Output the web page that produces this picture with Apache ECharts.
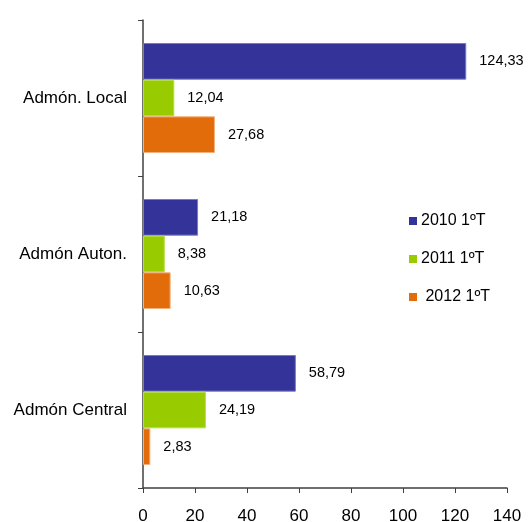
<!DOCTYPE html>
<html>
<head>
<meta charset="utf-8">
<script src="https://cdn.jsdelivr.net/npm/echarts@6/dist/echarts.min.js"></script>
<style>
html,body{margin:0;padding:0;background:#fff;}
#chart{width:529px;height:522px;}
</style>
</head>
<body>
<div id="chart"></div>
<script>
var categories = ['Admón. Local', 'Admón Auton.', 'Admón Central'];
var seriesNames = ['2010 1ºT', '2011 1ºT', ' 2012 1ºT'];
var values2010 = [124.33, 21.18, 58.79];
var values2011 = [12.04, 8.38, 24.19];
var values2012 = [27.68, 10.63, 2.83];
var xTicks = [0, 20, 40, 60, 80, 100, 120, 140];

var colors = ['#333399', '#99CC00', '#E36C0A'];
var borders = ['#7a7ac4', '#b5dd4a', '#f3b07c'];
var font = '"Liberation Sans", Arial, sans-serif';

function mk(i, data) {
  return {
    name: seriesNames[i],
    type: 'bar',
    data: data,
    barGap: '0%',
    barCategoryGap: '29.5%',
    itemStyle: { color: colors[i], borderColor: borders[i], borderWidth: 1 },
    label: {
      show: true,
      position: 'right',
      distance: 13,
      color: '#000',
      fontFamily: font,
      fontSize: 14.5,
      formatter: function (p) { return p.value.toFixed(2).replace('.', ','); }
    }
  };
}

var chart = echarts.init(document.getElementById('chart'));
chart.setOption({
  animation: false,
  textStyle: { fontFamily: font },
  grid: { left: 143, right: 22, top: 20, bottom: 34, containLabel: false, outerBoundsMode: 'none' },
  legend: {
    orient: 'vertical',
    left: 404,
    top: 208,
    icon: 'rect',
    itemWidth: 8,
    itemHeight: 8,
    itemGap: 22,
    itemStyle: { borderWidth: 0 },
    textStyle: { fontSize: 16, color: '#000', fontFamily: font, padding: [0, 0, 0, -1] },
    data: seriesNames
  },
  xAxis: {
    type: 'value',
    min: xTicks[0],
    max: xTicks[xTicks.length - 1],
    interval: 20,
    splitLine: { show: false },
    axisLine: { show: true, lineStyle: { color: '#404040', width: 1.5 } },
    axisTick: { show: true, length: 5, lineStyle: { color: '#404040' } },
    axisLabel: { fontSize: 17, color: '#000', fontFamily: font, margin: 20 }
  },
  yAxis: {
    type: 'category',
    inverse: true,
    data: categories,
    axisLine: { show: true, lineStyle: { color: '#404040', width: 1.5 } },
    axisTick: { show: true, length: 5, lineStyle: { color: '#404040' } },
    axisLabel: { fontSize: 17, color: '#000', fontFamily: font, margin: 16 }
  },
  series: [mk(0, values2010), mk(1, values2011), mk(2, values2012)]
});
</script>
</body>
</html>
